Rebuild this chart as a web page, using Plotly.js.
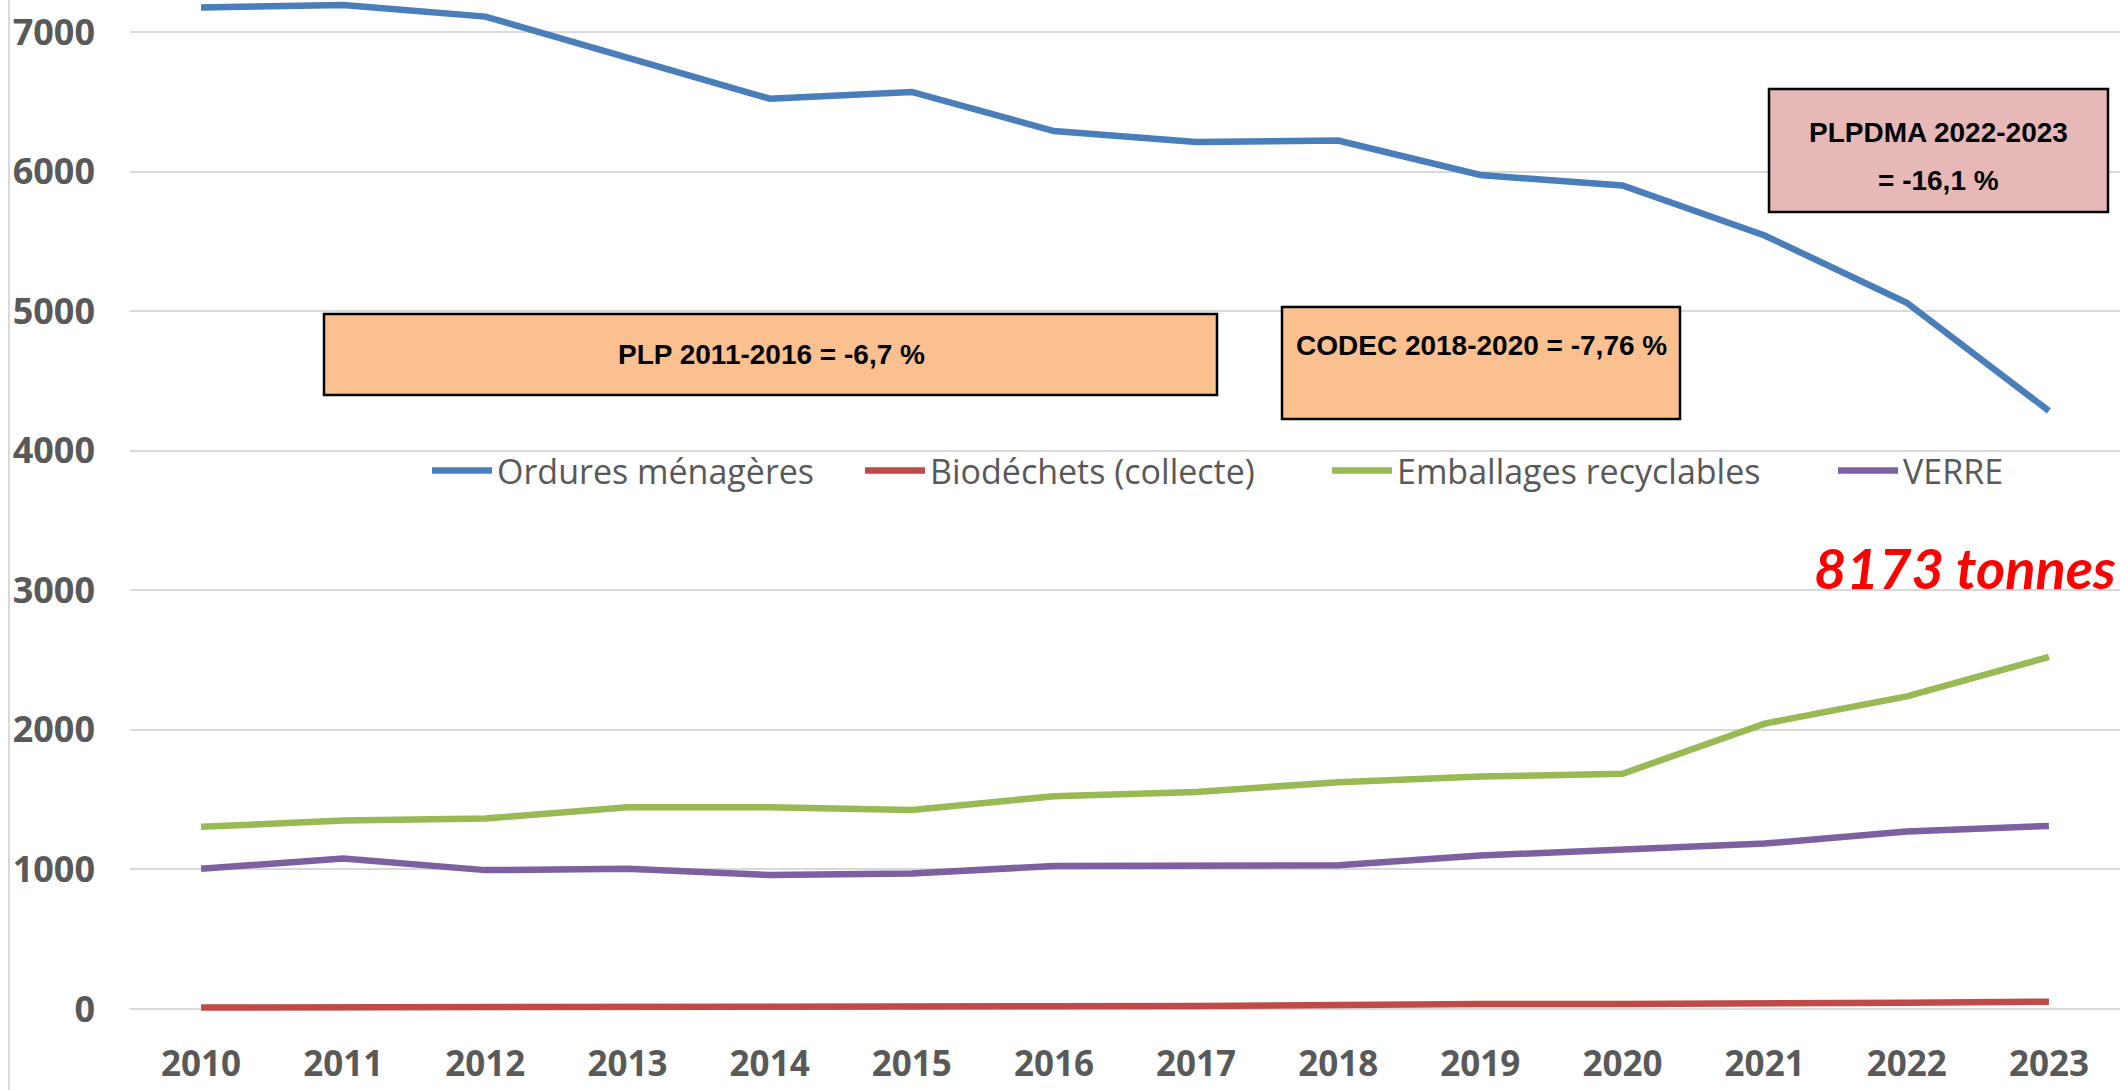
<!DOCTYPE html>
<html>
<head>
<meta charset="utf-8">
<script src="https://cdn.plot.ly/plotly-3.0.1.min.js"></script>
<style>
  html, body { margin: 0; padding: 0; background: #ffffff; }
  #chart { width: 2120px; height: 1090px; }
</style>
</head>
<body>
<div id="chart"></div>
<script>
// ---- data ----
const years = ['2010','2011','2012','2013','2014','2015','2016','2017','2018','2019','2020','2021','2022','2023'];
const ordures = [7175, 7194, 7110, 6815, 6522, 6570, 6290, 6212, 6222, 5975, 5900, 5542, 5060, 4285];
const biodechets = [10, 10, 10, 10, 10, 12, 20, 22, 32, 35, 35, 45, 45, 52];
const emballages = [1305, 1350, 1365, 1445, 1445, 1425, 1525, 1555, 1625, 1665, 1685, 2045, 2240, 2522];
const verre = [1005, 1078, 995, 1005, 960, 970, 1025, 1030, 1030, 1100, 1148, 1185, 1272, 1312];
const seriesNames = ['Ordures ménagères', 'Biodéchets (collecte)', 'Emballages recyclables', 'VERRE'];
const yTicks = [0, 1000, 2000, 3000, 4000, 5000, 6000, 7000];
const boxTexts = ['PLP 2011-2016 = -6,7 %', 'CODEC 2018-2020 = -7,76 %', 'PLPDMA 2022-2023', '= -16,1 %'];
const totalText = '8173 tonnes';

// ---- layout geometry (pixels -> paper) ----
const W = 2120, H = 1090;
const mL = 130, mR = 0, mT = 0, mB = 73;
const pw = W - mL - mR, ph = H - mT - mB;
const px = x => (x - mL) / pw;
const py = y => 1 - (y - mT) / ph;

const colors = ['#4A7EBB', '#BE4B48', '#98B954', '#7D60A0'];
const gray = '#595959';
const boxFont = { family: '"Liberation Sans", Arial, sans-serif', size: 28, color: '#000000', weight: 'bold' };

const allSeries = [ordures, biodechets, emballages, verre];
const legendIds = ['legend', 'legend2', 'legend3', 'legend4'];
const traces = allSeries.map((vals, i) => ({
  type: 'scatter',
  mode: 'lines',
  x: years,
  y: vals,
  name: seriesNames[i],
  legend: legendIds[i],
  line: { color: colors[i], width: 6.5 },
  hoverinfo: 'x+y+name'
}));

const legendStarts = [427, 860, 1327, 1833];
const legendBase = {
  orientation: 'h',
  xanchor: 'left',
  y: py(471),
  yanchor: 'middle',
  bgcolor: 'rgba(0,0,0,0)',
  borderwidth: 0,
  itemwidth: 60,
  font: { family: '"Open Sans", sans-serif', size: 34, color: gray }
};

const layout = {
  width: W,
  height: H,
  margin: { l: mL, r: mR, t: mT, b: mB, pad: 0 },
  paper_bgcolor: '#ffffff',
  plot_bgcolor: '#ffffff',
  showlegend: true,
  xaxis: {
    type: 'category',
    range: [-0.5, 13.5],
    showgrid: false,
    zeroline: false,
    showline: false,
    ticks: '',
    ticklabelstandoff: 23,
    tickfont: { family: '"Open Sans", sans-serif', size: 35, color: gray, weight: 'bold' },
    fixedrange: true
  },
  yaxis: {
    range: [-57.3, 7229],
    tickvals: yTicks,
    ticktext: yTicks.map(String),
    showgrid: true,
    gridcolor: '#D9D9D9',
    gridwidth: 2,
    zeroline: false,
    showline: false,
    ticks: '',
    ticklabelstandoff: 34,
    tickfont: { family: '"Open Sans", sans-serif', size: 36, color: gray, weight: 'bold' },
    fixedrange: true
  },
  shapes: [
    { type: 'line', xref: 'paper', yref: 'paper', x0: px(9), x1: px(9), y0: py(H), y1: py(0),
      line: { color: '#D9D9D9', width: 2 } },
    { type: 'rect', xref: 'paper', yref: 'paper', x0: px(324), x1: px(1217), y0: py(395), y1: py(314),
      fillcolor: '#FAC090', line: { color: '#000000', width: 2.5 } },
    { type: 'rect', xref: 'paper', yref: 'paper', x0: px(1282), x1: px(1680), y0: py(419), y1: py(307),
      fillcolor: '#FAC090', line: { color: '#000000', width: 2.5 } },
    { type: 'rect', xref: 'paper', yref: 'paper', x0: px(1769), x1: px(2108), y0: py(212), y1: py(89),
      fillcolor: '#E6B9B8', line: { color: '#000000', width: 2.5 } }
  ],
  annotations: [
    { xref: 'paper', yref: 'paper', x: px(771), y: py(354), xanchor: 'center', yanchor: 'middle',
      text: boxTexts[0], showarrow: false, font: boxFont },
    { xref: 'paper', yref: 'paper', x: px(1481), y: py(345), xanchor: 'center', yanchor: 'middle',
      text: boxTexts[1], showarrow: false, font: boxFont },
    { xref: 'paper', yref: 'paper', x: px(1938), y: py(132), xanchor: 'center', yanchor: 'middle',
      text: boxTexts[2], showarrow: false, font: boxFont },
    { xref: 'paper', yref: 'paper', x: px(1938), y: py(180), xanchor: 'center', yanchor: 'middle',
      text: boxTexts[3], showarrow: false, font: boxFont },
    { xref: 'paper', yref: 'paper', x: px(1965), y: py(567), xanchor: 'center', yanchor: 'middle',
      text: '<i><b>' + totalText + '</b></i>', showarrow: false,
      font: { family: 'Lato, "Open Sans", sans-serif', size: 56, color: '#FF0000' } }
  ]
};
legendIds.forEach((id, i) => {
  layout[id] = Object.assign({}, legendBase, { x: px(legendStarts[i]) });
});

Plotly.newPlot('chart', traces, layout, { displayModeBar: false, staticPlot: true });
</script>
</body>
</html>
